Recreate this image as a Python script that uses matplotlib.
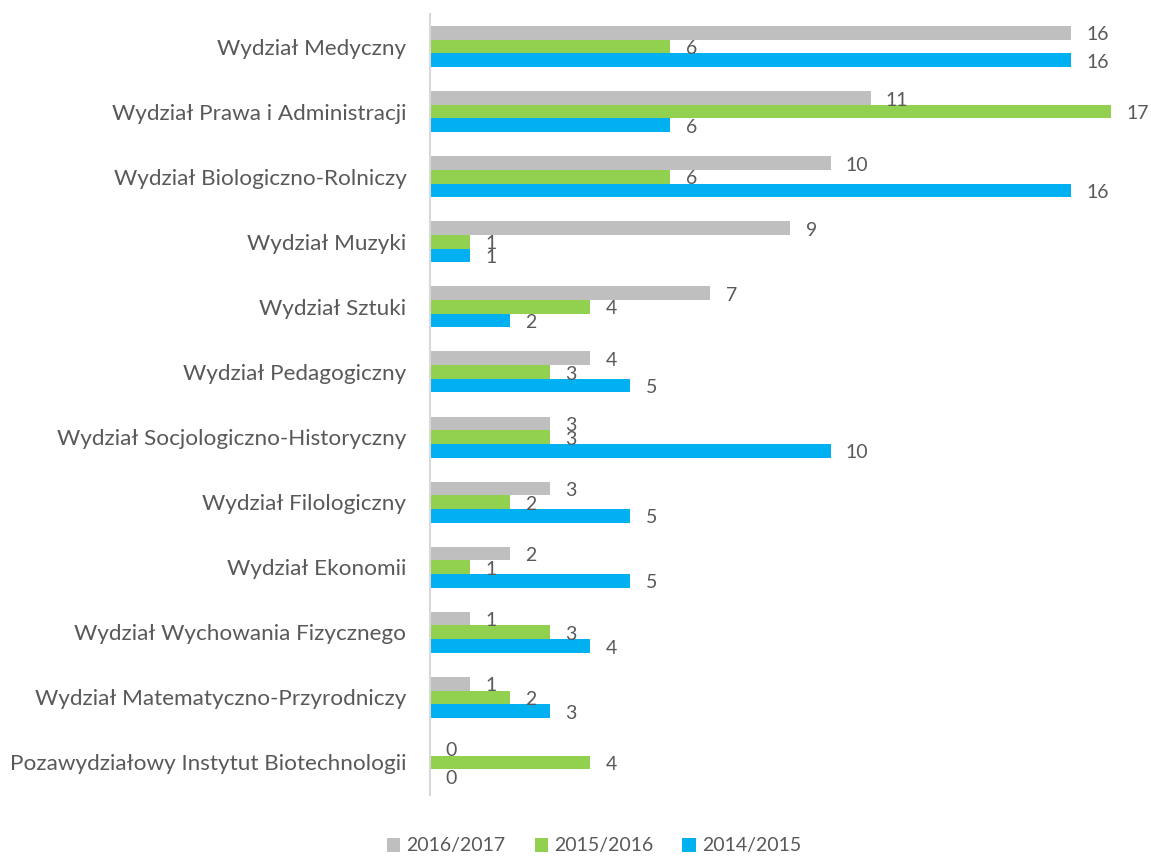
import numpy as np
import matplotlib.pyplot as plt

# --- data ---
categories = [
    "Wydział Medyczny",
    "Wydział Prawa i Administracji",
    "Wydział Biologiczno-Rolniczy",
    "Wydział Muzyki",
    "Wydział Sztuki",
    "Wydział Pedagogiczny",
    "Wydział Socjologiczno-Historyczny",
    "Wydział Filologiczny",
    "Wydział Ekonomii",
    "Wydział Wychowania Fizycznego",
    "Wydział Matematyczno-Przyrodniczy",
    "Pozawydziałowy Instytut Biotechnologii",
]
s_2016_2017 = [16, 11, 10, 9, 7, 4, 3, 3, 2, 1, 1, 0]
s_2015_2016 = [6, 17, 6, 1, 4, 3, 3, 2, 1, 3, 2, 4]
s_2014_2015 = [16, 6, 16, 1, 2, 5, 10, 5, 5, 4, 3, 0]

series = [
    ("2016/2017", s_2016_2017, "#BFBFBF"),
    ("2015/2016", s_2015_2016, "#92D050"),
    ("2014/2015", s_2014_2015, "#00B0F0"),
]

TEXT = "#595959"
plt.rcParams['font.family'] = ['Lato', 'DejaVu Sans']

fig = plt.figure(figsize=(11.51, 8.56), dpi=100)
ax = fig.add_axes([430 / 1151, 1 - 795 / 856, 1 - 430 / 1151, (795 - 14) / 856])

y = np.arange(len(categories))
h = 0.21
offsets = [-h, 0, h]

handles = []
for (name, vals, col), off in zip(series, offsets):
    bars = ax.barh(y + off, vals, height=h, color=col, label=name)
    handles.append(bars)
    for yi, v in zip(y + off, vals):
        ax.annotate(str(v), xy=(v, yi), xytext=(11, -1.5), textcoords="offset points",
                    ha="left", va="center", fontsize=14, color=TEXT)

ax.set_ylim(len(categories) - 0.5, -0.5)
ax.set_xlim(0, 18)
ax.set_yticks(y)
ax.set_yticklabels(categories, fontsize=16.2, color=TEXT)
ax.tick_params(axis="y", length=0, pad=17)
ax.set_xticks([])
for sp in ["top", "right", "bottom"]:
    ax.spines[sp].set_visible(False)
ax.spines["left"].set_color("#D9D9D9")
ax.spines["left"].set_linewidth(1.5)

leg = fig.legend(handles=handles, loc="center", bbox_to_anchor=(594 / 1151, 1 - 846 / 856),
                 ncol=3, frameon=False, fontsize=14, handlelength=0.7, handleheight=0.7,
                 handletextpad=0.3, columnspacing=1.5)
for t in leg.get_texts():
    t.set_color(TEXT)

fig.savefig("out.png", dpi=100)
